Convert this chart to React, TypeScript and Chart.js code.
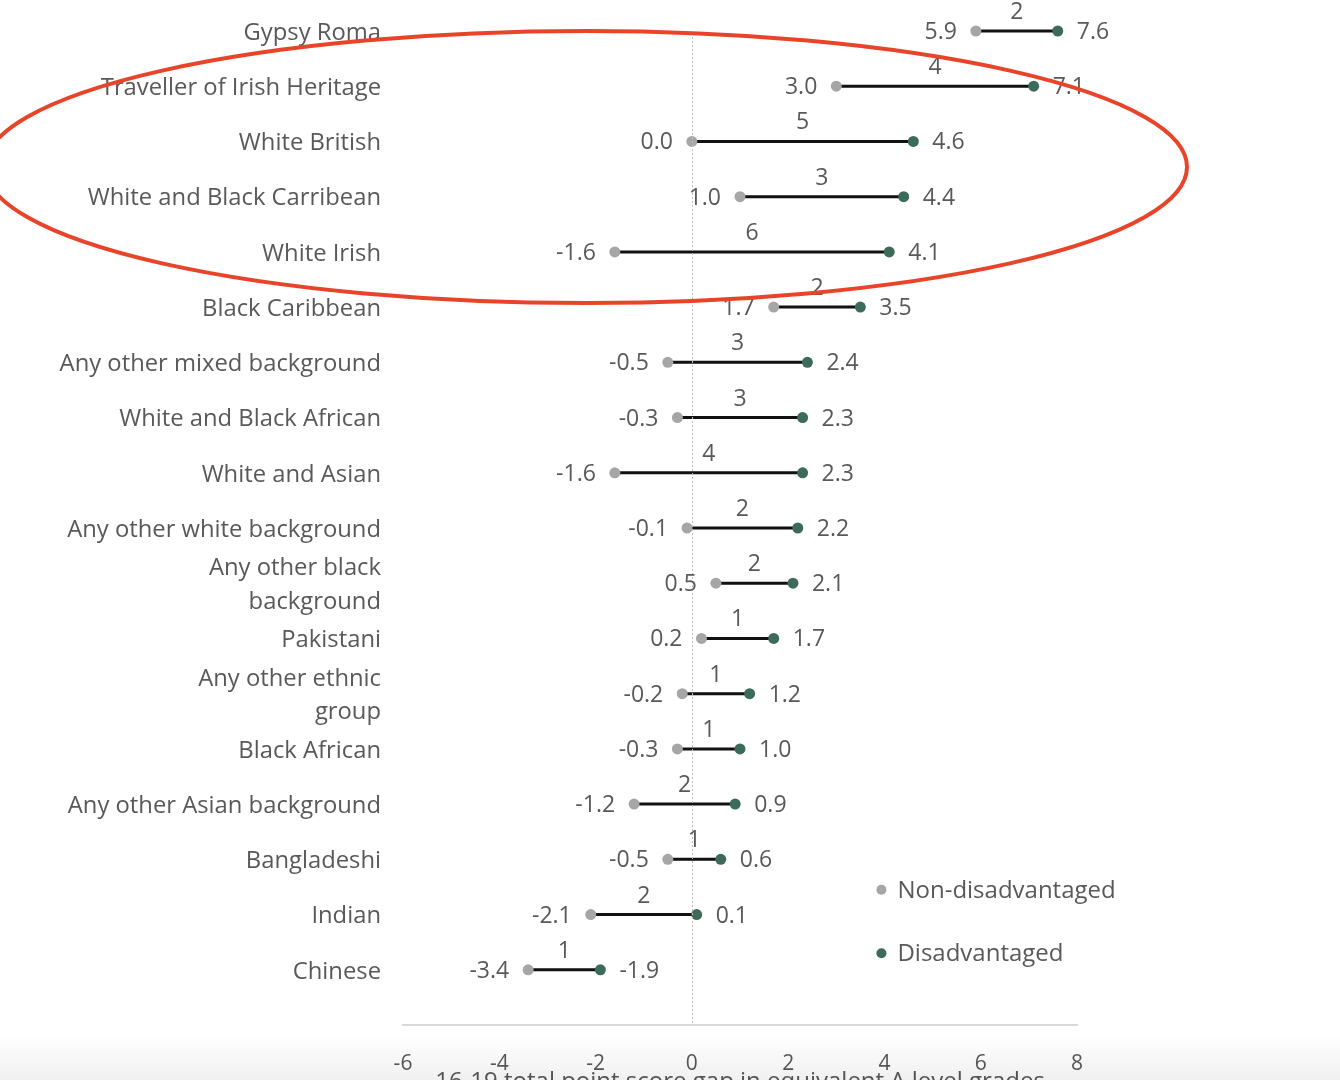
import React, { useEffect, useRef } from "react";
import { Chart, registerables } from "chart.js";

Chart.register(...registerables);

const categories: (string | string[])[] = [
  "Gypsy Roma",
  "Traveller of Irish Heritage",
  "White British",
  "White and Black Carribean",
  "White Irish",
  "Black Caribbean",
  "Any other mixed background",
  "White and Black African",
  "White and Asian",
  "Any other white background",
  ["Any other black", "background"],
  "Pakistani",
  ["Any other ethnic", "group"],
  "Black African",
  "Any other Asian background",
  "Bangladeshi",
  "Indian",
  "Chinese",
];

const nonDisadvantaged = [5.9, 3.0, 0.0, 1.0, -1.6, 1.7, -0.5, -0.3, -1.6, -0.1, 0.5, 0.2, -0.2, -0.3, -1.2, -0.5, -2.1, -3.4];
const disadvantaged = [7.6, 7.1, 4.6, 4.4, 4.1, 3.5, 2.4, 2.3, 2.3, 2.2, 2.1, 1.7, 1.2, 1.0, 0.9, 0.6, 0.1, -1.9];
const gapLabels = ["2", "4", "5", "3", "6", "2", "3", "3", "4", "2", "2", "1", "1", "1", "2", "1", "2", "1"];
const xTickValues = [-6, -4, -2, 0, 2, 4, 6, 8];
const seriesNames = ["Non-disadvantaged", "Disadvantaged"];
const axisTitle = "16-19 total point score gap in equivalent A level grades";

const FONT = "'Open Sans', 'Noto Sans', sans-serif";
const TEXT = "#595959";
const GRAY = "#a6a6a6";
const GREEN = "#3d6b59";

const labelsPlugin = {
  id: "dumbbellLabels",
  afterDatasetsDraw(chart: any) {
    const { ctx, scales, chartArea } = chart;
    const xs = scales.x;
    ctx.save();
    const x0 = xs.getPixelForValue(0);
    ctx.strokeStyle = "#bdbdbd";
    ctx.lineWidth = 1;
    ctx.setLineDash([2, 2]);
    ctx.beginPath();
    ctx.moveTo(Math.round(x0) + 0.5, chartArea.top + 2);
    ctx.lineTo(Math.round(x0) + 0.5, chartArea.bottom);
    ctx.stroke();
    ctx.setLineDash([]);
    ctx.restore();
  },
  afterDraw(chart: any) {
    const { ctx, scales, chartArea } = chart;
    const xs = scales.x;
    const ys = scales.y;
    ctx.save();
    ctx.font = `23px ${FONT}`;
    ctx.fillStyle = TEXT;
    ctx.textBaseline = "middle";
    categories.forEach((_, i) => {
      const y = ys.getPixelForValue(i) + 1.5;
      const xa = xs.getPixelForValue(nonDisadvantaged[i]);
      const xb = xs.getPixelForValue(disadvantaged[i]);
      ctx.textAlign = "right";
      ctx.fillText(nonDisadvantaged[i].toFixed(1), xa - 19, y);
      ctx.textAlign = "left";
      ctx.fillText(disadvantaged[i].toFixed(1), xb + 19, y);
      ctx.textAlign = "center";
      ctx.fillText(gapLabels[i], (xa + xb) / 2, y - 20);
    });
    // legend
    const lx = xs.getPixelForValue(4);
    const colors = [GRAY, GREEN];
    const legendY = [ys.getPixelForValue(15.55), ys.getPixelForValue(16.7)];
    ctx.font = `24px ${FONT}`;
    seriesNames.forEach((n, k) => {
      ctx.fillStyle = colors[k];
      ctx.beginPath();
      ctx.arc(lx - 3, legendY[k], 5, 0, Math.PI * 2);
      ctx.fill();
      ctx.fillStyle = TEXT;
      ctx.textAlign = "left";
      ctx.fillText(n, lx + 13, legendY[k] + 1);
    });
    // axis title
    ctx.font = `24px ${FONT}`;
    ctx.textAlign = "center";
    ctx.fillText(axisTitle, (chartArea.left + chartArea.right) / 2, chartArea.bottom + 57);
    // annotation ellipse
    ctx.strokeStyle = "#e8442a";
    ctx.lineWidth = 4;
    ctx.beginPath();
    ctx.ellipse(586, 167, 601, 136, 0, 0, Math.PI * 2);
    ctx.stroke();
    ctx.restore();
  },
};

export default function App() {
  const ref = useRef<HTMLCanvasElement | null>(null);
  useEffect(() => {
    if (!ref.current) return;
    const segData: { x: number; y: number }[] = [];
    categories.forEach((_, i) => {
      segData.push({ x: nonDisadvantaged[i], y: i });
      segData.push({ x: disadvantaged[i], y: i });
      segData.push({ x: NaN, y: NaN });
    });
    const chart = new Chart(ref.current, {
      type: "scatter",
      data: {
        datasets: [
          {
            label: seriesNames[0],
            data: nonDisadvantaged.map((v, i) => ({ x: v, y: i })),
            backgroundColor: GRAY,
            borderWidth: 0,
            pointRadius: 5.5,
            clip: false,
            order: 1,
          } as any,
          {
            label: seriesNames[1],
            data: disadvantaged.map((v, i) => ({ x: v, y: i })),
            backgroundColor: GREEN,
            borderWidth: 0,
            pointRadius: 5.5,
            clip: false,
            order: 1,
          } as any,
          {
            label: "gap",
            data: segData,
            showLine: true,
            spanGaps: false,
            borderColor: "#111111",
            borderWidth: 3,
            pointRadius: 0,
            clip: false,
            order: 2,
          } as any,
        ],
      },
      options: {
        animation: false,
        responsive: false,
        layout: { padding: { top: 31, right: 263, left: 0, bottom: 0 } },
        plugins: { legend: { display: false }, tooltip: { enabled: false } },
        scales: {
          x: {
            type: "linear",
            min: -6,
            max: 8,
            afterBuildTicks: (s: any) => {
              s.ticks = xTickValues.map((v) => ({ value: v }));
            },
            afterFit: (s: any) => {
              s.height = 55;
              s.paddingLeft = 0;
              s.paddingRight = 0;
            },
            grid: { display: false, drawTicks: false },
            border: { display: true, color: "#d9d9d9", width: 2 },
            ticks: { color: TEXT, font: { family: FONT, size: 21 }, padding: 26, maxRotation: 0 },
          },
          y: {
            type: "linear",
            reverse: true,
            min: 0,
            max: 18,
            afterBuildTicks: (s: any) => {
              s.ticks = categories.map((_, i) => ({ value: i }));
            },
            afterFit: (s: any) => {
              s.width = 403;
              s.paddingTop = 0;
              s.paddingBottom = 0;
            },
            grid: { display: false, drawTicks: false },
            border: { display: false },
            ticks: {
              autoSkip: false,
              color: TEXT,
              padding: 22,
              labelOffset: 2,
              font: { family: FONT, size: 23.8, lineHeight: 1.4 },
              callback: (v: any) => categories[Math.round(Number(v))] as any,
            },
          },
        },
      } as any,
      plugins: [labelsPlugin],
    });
    return () => chart.destroy();
  }, []);
  return (
    <div style={{ position: "absolute", left: 0, top: 0, width: 1340, height: 1080, overflow: "hidden", background: "#fff" }}>
      <canvas ref={ref} width={1340} height={1080} style={{ display: "block" }} />
      <div
        style={{
          position: "absolute",
          left: 0,
          top: 1035,
          width: 1340,
          height: 45,
          background: "linear-gradient(to bottom, rgba(0,0,0,0), rgba(0,0,0,0.06))",
          pointerEvents: "none",
        }}
      />
    </div>
  );
}
